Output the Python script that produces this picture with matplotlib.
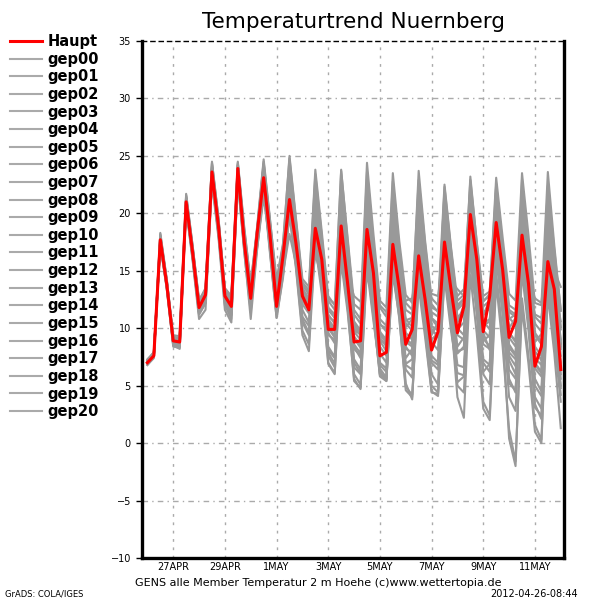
import matplotlib
matplotlib.use("Agg")
import matplotlib.pyplot as plt

# 6-hourly steps from 26APR 00Z (hours)
steps = list(range(0, 385, 6))

date_ticks = [24, 72, 120, 168, 216, 264, 312, 360]
date_labels = ["27APR", "29APR", "1MAY", "3MAY", "5MAY", "7MAY", "9MAY", "11MAY"]
temp_ticks = [-10, -5, 0, 5, 10, 15, 20, 25, 30, 35]

haupt = [7.0, 7.6, 17.7, 13.8, 8.9, 8.8, 21.0, 16.6, 11.8, 12.9, 23.6, 18.9,
         12.8, 11.9, 23.9, 17.5, 12.6, 18.3, 23.1, 18.0, 11.9, 16.3, 21.2, 17.4,
         12.8, 11.6, 18.7, 16.0, 9.9, 9.9, 18.9, 13.9, 8.8, 8.9, 18.6, 14.8,
         7.6, 7.9, 17.3, 13.4, 8.6, 9.9, 16.3, 12.5, 8.1, 9.7, 17.5, 13.4,
         9.6, 11.9, 19.9, 16.0, 9.7, 12.8, 19.2, 15.1, 9.2, 10.6, 18.1, 13.9,
         6.7, 8.4, 15.8, 13.4, 6.4]

gep00 = [7.1, 7.8, 17.9, 14.0, 9.1, 8.9, 21.3, 16.9, 12.0, 13.0, 23.9, 19.1,
         13.0, 12.2, 24.2, 18.0, 13.1, 18.0, 23.8, 18.5, 12.5, 15.8, 22.4, 17.9,
         13.1, 12.4, 20.5, 16.2, 11.0, 10.6, 20.8, 15.2, 9.8, 9.5, 20.2, 15.6,
         9.0, 8.6, 19.5, 14.6, 10.1, 10.8, 18.2, 13.6, 9.4, 10.5, 19.0, 14.2,
         10.5, 12.0, 21.0, 16.2, 11.1, 12.5, 20.4, 15.3, 10.0, 10.9, 19.8, 14.5,
         8.8, 9.5, 18.4, 14.0, 9.0]
gep01 = [6.9, 7.5, 18.3, 14.3, 9.0, 9.2, 21.7, 17.2, 12.3, 13.4, 24.5, 19.6,
         13.4, 12.6, 24.5, 18.8, 13.8, 18.9, 24.7, 19.4, 14.0, 17.2, 25.0, 19.6,
         14.3, 13.6, 23.8, 18.4, 12.8, 12.0, 23.7, 17.9, 12.1, 11.6, 24.4, 18.2,
         12.4, 11.8, 23.5, 17.6, 12.9, 12.2, 22.9, 17.3, 12.1, 11.4, 21.8, 16.6,
         12.0, 12.6, 23.2, 17.4, 12.3, 13.0, 23.1, 17.9, 13.0, 12.4, 23.5, 18.1,
         12.2, 12.0, 23.6, 17.2, 11.5]
gep02 = [7.2, 7.7, 17.4, 13.6, 8.7, 8.6, 20.7, 16.3, 11.5, 12.4, 23.2, 18.5,
         12.5, 11.4, 23.5, 17.2, 12.2, 17.6, 22.6, 17.1, 11.4, 15.0, 20.6, 16.1,
         11.0, 10.2, 17.9, 14.4, 8.1, 7.4, 16.8, 12.2, 6.6, 6.0, 15.9, 11.3,
         5.8, 5.4, 15.2, 10.8, 4.9, 4.2, 14.3, 9.7, 4.5, 4.1, 14.9, 10.4,
         5.3, 5.8, 16.4, 11.6, 6.2, 6.9, 17.0, 12.1, 5.2, 4.6, 15.6, 10.4,
         3.1, 2.4, 14.2, 9.8, 5.0]
gep03 = [7.0, 7.5, 17.6, 13.9, 8.6, 8.4, 20.9, 16.4, 11.4, 12.6, 23.4, 18.6,
         12.3, 11.1, 23.4, 17.0, 11.8, 17.7, 22.9, 17.3, 11.6, 15.1, 21.0, 16.3,
         10.8, 9.6, 19.1, 14.6, 7.9, 6.9, 18.0, 13.1, 7.0, 6.1, 17.4, 12.6,
         6.8, 6.2, 16.6, 12.0, 6.4, 5.7, 16.8, 11.9, 6.0, 5.1, 17.7, 12.4,
         5.0, 4.4, 16.5, 11.2, 3.6, 2.4, 14.8, 9.6, 0.4, -2.0, 12.6, 7.6,
         1.6, 0.3, 13.8, 8.9, 3.6]
gep04 = [6.8, 7.4, 17.2, 13.5, 8.4, 8.3, 20.5, 16.0, 11.2, 12.2, 22.8, 18.2,
         12.6, 12.0, 23.2, 18.3, 13.4, 17.2, 21.8, 17.6, 13.1, 15.4, 19.8, 16.8,
         13.6, 13.2, 17.6, 15.6, 12.6, 12.1, 16.2, 14.6, 12.8, 12.3, 15.9, 14.2,
         12.0, 11.4, 15.1, 13.9, 12.4, 12.6, 15.8, 14.6, 13.0, 12.8, 16.8, 14.9,
         12.8, 13.4, 16.2, 14.6, 12.4, 12.8, 15.4, 13.6, 11.6, 11.2, 16.7, 14.4,
         12.6, 12.2, 17.4, 15.0, 13.6]
gep05 = [7.1, 7.9, 18.1, 14.2, 9.3, 9.1, 21.4, 17.0, 12.2, 13.2, 24.1, 19.4,
         13.2, 12.5, 24.3, 18.4, 13.6, 18.6, 24.3, 19.0, 13.6, 16.4, 23.6, 18.8,
         13.9, 12.9, 22.1, 17.1, 11.6, 10.9, 21.6, 16.0, 10.4, 9.5, 21.0, 15.5,
         9.5, 8.7, 20.4, 14.9, 9.1, 8.6, 19.6, 14.6, 9.9, 9.2, 20.6, 15.7,
         10.6, 11.2, 22.1, 17.0, 11.4, 11.8, 21.9, 16.6, 10.9, 10.3, 22.0, 16.3,
         9.6, 8.8, 21.1, 15.8, 9.9]
gep06 = [6.9, 7.6, 17.5, 13.7, 8.8, 8.7, 20.8, 16.5, 11.9, 12.8, 23.3, 18.7,
         12.9, 12.1, 23.7, 17.8, 12.9, 18.1, 23.4, 17.9, 11.8, 16.0, 21.8, 17.0,
         12.1, 11.3, 18.2, 15.0, 9.4, 9.0, 18.6, 13.4, 8.2, 7.6, 17.9, 13.1,
         7.0, 6.5, 16.5, 12.2, 7.4, 8.2, 14.8, 12.0, 9.0, 9.6, 15.5, 12.8,
         8.4, 9.2, 17.8, 13.1, 7.3, 6.8, 18.3, 13.0, 6.4, 5.6, 17.2, 12.0,
         5.0, 4.1, 16.0, 11.3, 4.8]
gep07 = [7.0, 7.7, 17.8, 14.1, 9.0, 9.0, 21.1, 16.8, 12.1, 13.1, 23.8, 19.0,
         13.1, 12.4, 24.0, 18.2, 13.3, 18.4, 24.1, 18.7, 13.0, 16.8, 24.2, 18.9,
         13.5, 12.6, 22.9, 17.6, 11.8, 11.2, 22.6, 16.8, 11.2, 10.4, 22.4, 16.4,
         10.4, 9.7, 21.5, 15.8, 10.8, 10.1, 21.2, 16.4, 11.4, 11.0, 19.9, 15.8,
         11.6, 12.2, 18.6, 15.3, 11.9, 12.4, 19.4, 14.9, 9.6, 8.9, 20.4, 14.4,
         8.0, 7.2, 19.8, 14.3, 8.2]
gep08 = [7.3, 7.9, 17.3, 13.4, 8.5, 8.2, 20.4, 15.9, 10.8, 11.6, 22.6, 17.9,
         11.6, 10.5, 22.9, 16.7, 10.8, 16.9, 22.0, 16.4, 10.9, 14.4, 19.8, 15.2,
         9.4, 8.0, 17.2, 13.0, 6.9, 6.0, 15.8, 11.4, 5.6, 4.7, 15.2, 10.6,
         6.3, 5.4, 15.8, 11.6, 6.9, 7.3, 15.6, 11.5, 7.0, 6.4, 16.3, 11.6,
         6.8, 6.6, 17.1, 12.0, 6.0, 5.1, 16.2, 11.1, 4.0, 2.8, 14.9, 9.8,
         3.4, 2.1, 15.3, 10.2, 4.2]
gep09 = [7.0, 7.5, 17.6, 13.7, 8.9, 8.7, 21.0, 16.6, 11.7, 12.9, 23.5, 18.8,
         12.7, 11.8, 23.8, 17.6, 12.8, 18.2, 23.6, 18.2, 12.6, 16.4, 22.9, 17.8,
         12.9, 12.1, 21.4, 16.5, 10.6, 9.8, 20.3, 15.1, 9.3, 8.5, 19.1, 14.2,
         8.4, 7.6, 18.5, 13.7, 8.2, 7.9, 18.9, 13.8, 8.8, 8.1, 19.5, 14.6,
         9.9, 10.5, 20.8, 15.4, 9.1, 8.4, 20.9, 14.9, 7.6, 6.7, 18.7, 13.2,
         6.5, 5.8, 17.5, 12.6, 7.0]
gep10 = [6.9, 7.7, 17.7, 13.9, 8.8, 8.9, 20.9, 16.7, 12.0, 13.0, 23.4, 18.8,
         12.9, 12.3, 23.0, 17.9, 13.2, 17.0, 21.4, 17.2, 12.8, 14.8, 18.2, 15.6,
         12.7, 12.3, 16.4, 14.4, 11.6, 11.0, 15.4, 13.1, 10.0, 9.4, 14.6, 12.6,
         10.3, 10.0, 16.2, 13.4, 10.7, 10.9, 17.9, 14.2, 10.2, 9.8, 18.6, 14.1,
         9.4, 9.0, 16.8, 13.4, 10.4, 10.8, 15.3, 13.6, 10.8, 11.2, 14.6, 13.5,
         11.2, 10.9, 15.5, 13.8, 10.6]
gep11 = [7.1, 7.8, 17.9, 14.0, 9.2, 9.1, 21.5, 17.1, 12.4, 13.5, 24.3, 19.5,
         13.3, 12.4, 23.6, 18.1, 13.0, 18.0, 23.9, 18.8, 13.4, 16.9, 23.2, 18.5,
         13.2, 12.0, 20.9, 16.0, 10.2, 9.3, 19.6, 14.6, 8.6, 7.8, 19.6, 14.4,
         8.9, 8.0, 20.6, 15.2, 9.6, 9.0, 21.7, 16.2, 10.8, 10.1, 22.3, 16.9,
         11.8, 12.5, 22.4, 17.0, 10.6, 9.9, 21.4, 15.6, 8.6, 7.7, 19.3, 13.6,
         5.6, 4.5, 18.7, 13.0, 6.0]
gep12 = [7.0, 7.6, 17.5, 13.6, 8.6, 8.5, 20.6, 16.2, 11.3, 12.3, 23.0, 18.3,
         12.2, 11.2, 23.1, 16.9, 11.9, 17.4, 22.4, 16.8, 11.2, 14.9, 20.9, 15.9,
         10.5, 9.4, 18.8, 14.0, 7.6, 6.6, 17.5, 12.6, 6.0, 5.1, 16.8, 11.9,
         6.5, 5.7, 17.6, 12.5, 5.2, 3.8, 15.4, 10.6, 5.0, 4.4, 16.0, 10.9,
         4.0, 2.2, 14.6, 9.5, 3.0, 2.0, 13.9, 8.4, 1.2, -1.6, 11.8, 6.9,
         1.0, 0.0, 12.9, 7.8, 1.3]
gep13 = [7.2, 7.9, 18.2, 14.2, 9.4, 9.3, 21.6, 17.2, 12.5, 13.3, 24.4, 19.6,
         13.5, 12.8, 24.4, 18.6, 13.9, 18.7, 24.5, 19.3, 14.2, 17.4, 24.8, 19.4,
         14.0, 13.3, 23.4, 18.0, 12.4, 11.6, 23.8, 17.6, 11.6, 10.8, 23.6, 17.4,
         11.8, 11.0, 22.8, 17.0, 12.2, 11.6, 23.7, 17.6, 12.6, 12.0, 22.5, 17.1,
         12.4, 12.9, 22.9, 17.5, 12.8, 13.2, 22.4, 17.1, 12.0, 11.6, 21.6, 16.6,
         11.0, 10.4, 22.4, 16.8, 11.6]
gep14 = [6.8, 7.5, 17.4, 13.6, 8.7, 8.6, 20.8, 16.4, 11.6, 12.7, 23.3, 18.6,
         12.6, 11.7, 23.6, 17.4, 12.4, 17.9, 23.3, 17.7, 12.1, 15.6, 21.6, 16.9,
         12.4, 11.6, 19.5, 15.3, 9.6, 8.7, 19.4, 14.0, 8.4, 7.4, 18.9, 13.6,
         7.8, 7.0, 19.2, 13.9, 8.8, 8.4, 20.1, 14.8, 9.6, 10.4, 16.2, 14.1,
         13.4, 12.8, 14.6, 12.2, 9.6, 8.1, 16.6, 12.0, 7.2, 6.0, 17.9, 12.6,
         7.4, 6.8, 18.9, 14.0, 8.6]
gep15 = [7.1, 7.7, 17.8, 13.9, 9.0, 8.8, 21.2, 16.7, 11.9, 13.0, 23.7, 19.0,
         13.0, 12.0, 24.1, 17.9, 12.7, 18.3, 23.5, 18.3, 12.3, 16.2, 22.2, 17.5,
         12.6, 11.8, 20.0, 15.7, 10.0, 9.2, 20.1, 14.9, 9.1, 8.3, 20.7, 15.3,
         9.7, 9.0, 21.6, 16.0, 10.4, 9.8, 22.4, 16.6, 10.9, 10.4, 21.2, 16.1,
         10.0, 9.4, 21.7, 16.0, 9.8, 9.2, 22.6, 16.3, 9.2, 8.4, 22.9, 16.2,
         9.4, 8.6, 20.6, 15.2, 8.7]
gep16 = [7.0, 7.6, 17.7, 13.8, 8.8, 8.6, 20.6, 16.3, 11.5, 12.5, 23.0, 18.4,
         12.4, 11.3, 23.3, 17.2, 12.1, 17.8, 23.0, 17.4, 11.7, 15.4, 21.4, 16.6,
         11.6, 10.5, 19.6, 14.8, 8.4, 7.5, 18.6, 13.2, 7.3, 6.4, 16.4, 12.3,
         6.0, 5.6, 14.7, 11.0, 4.6, 4.0, 13.6, 9.2, 4.4, 4.3, 14.4, 9.8,
         6.1, 5.9, 16.0, 11.5, 7.0, 6.2, 17.7, 12.6, 5.6, 4.4, 16.4, 11.3,
         4.0, 3.0, 17.2, 11.6, 5.6]
gep17 = [6.9, 7.7, 18.0, 14.1, 9.1, 9.0, 21.3, 16.9, 12.2, 13.1, 24.0, 19.2,
         13.1, 12.3, 24.2, 18.3, 13.5, 18.5, 24.2, 18.9, 13.2, 16.6, 23.9, 18.6,
         13.4, 12.4, 22.6, 17.2, 11.2, 10.4, 22.3, 16.4, 10.6, 9.8, 21.7, 16.0,
         10.8, 10.2, 19.4, 15.6, 11.6, 11.2, 18.4, 15.4, 11.8, 11.5, 20.8, 15.9,
         11.0, 11.4, 21.4, 16.4, 11.2, 11.7, 20.1, 15.8, 11.4, 11.0, 21.1, 15.9,
         10.4, 9.7, 20.1, 15.4, 10.1]
gep18 = [7.2, 7.8, 17.6, 13.8, 8.9, 8.8, 20.9, 16.5, 11.8, 12.8, 23.5, 18.8,
         12.8, 11.9, 23.9, 17.6, 12.6, 18.2, 23.4, 18.0, 12.2, 16.1, 22.6, 17.6,
         12.6, 11.7, 21.0, 16.0, 10.4, 9.7, 21.3, 15.4, 9.7, 9.0, 18.8, 14.8,
         9.4, 8.9, 17.2, 13.8, 8.4, 7.6, 17.4, 12.9, 7.2, 6.8, 18.4, 13.2,
         7.8, 8.4, 19.0, 13.8, 8.6, 8.2, 19.7, 14.0, 7.9, 7.3, 20.6, 14.6,
         6.8, 6.1, 21.8, 15.2, 7.6]
gep19 = [7.0, 7.6, 17.6, 13.8, 8.7, 8.5, 20.7, 16.2, 11.2, 12.2, 23.1, 18.2,
         12.0, 10.8, 22.8, 16.6, 11.4, 17.2, 22.2, 16.6, 10.9, 14.6, 20.2, 15.4,
         9.8, 8.6, 17.8, 13.4, 7.0, 6.1, 16.4, 11.8, 5.4, 4.8, 15.6, 11.0,
         5.9, 5.5, 16.7, 11.8, 6.8, 6.4, 17.6, 12.6, 7.6, 7.0, 19.1, 13.5,
         8.0, 8.2, 20.1, 14.6, 8.9, 9.4, 18.6, 13.9, 8.3, 7.6, 18.0, 13.0,
         7.0, 6.2, 16.8, 12.2, 6.6]
gep20 = [7.1, 7.7, 17.7, 13.9, 9.0, 8.9, 21.1, 16.8, 12.0, 13.0, 23.7, 19.0,
         13.0, 12.1, 24.0, 17.9, 12.9, 18.3, 23.7, 18.4, 12.7, 16.5, 23.0, 18.0,
         13.0, 12.2, 21.6, 16.6, 10.8, 10.0, 21.0, 15.7, 10.2, 9.6, 20.4, 15.0,
         9.2, 8.4, 18.9, 14.2, 9.0, 8.6, 19.6, 14.6, 9.8, 9.4, 20.8, 15.2,
         10.8, 11.6, 21.8, 16.2, 10.2, 10.6, 21.0, 15.4, 9.6, 8.8, 19.1, 14.0,
         8.4, 7.6, 19.4, 14.3, 8.4]

members = [gep00, gep01, gep02, gep03, gep04, gep05, gep06, gep07, gep08, gep09,
           gep10, gep11, gep12, gep13, gep14, gep15, gep16, gep17, gep18, gep19,
           gep20]
member_names = ["gep%02d" % i for i in range(len(members))]

GREY = "#999999"
GRID = "#aaaaaa"

fig = plt.figure(figsize=(6, 6), dpi=100)
ax = fig.add_axes([142 / 600, 42 / 600, 422 / 600, 517 / 600])

member_lines = []
for name, vals in zip(member_names, members):
    line, = ax.plot(steps, vals, color=GREY, linewidth=1.5, label=name)
    member_lines.append(line)

haupt_line, = ax.plot(steps, haupt, color="#ff0000", linewidth=2.2,
                      label="Haupt", zorder=5)

ax.set_xlim(-5, 387)
ax.set_ylim(-10, 35)

ax.set_xticks(date_ticks)
ax.set_xticklabels(date_labels)
ax.set_yticks(temp_ticks)
ax.set_yticklabels([str(t).replace("-", "\u2212") for t in temp_ticks])

ax.tick_params(axis="x", length=0, pad=3, labelsize=7)
ax.tick_params(axis="y", direction="out", length=4, width=1, pad=4,
               labelsize=7)

# grid like GrADS
for t in temp_ticks[1:-1]:
    ax.axhline(t, color=GRID, linewidth=1, linestyle=(0, (4, 3, 1, 3)),
               zorder=0)
for t in date_ticks:
    ax.axvline(t, color=GRID, linewidth=1, linestyle=(0, (2, 4)), zorder=0)

for side in ["left", "bottom", "right"]:
    ax.spines[side].set_linewidth(2.4)
ax.spines["top"].set_linewidth(1)
ax.spines["top"].set_linestyle((0, (3, 3)))

handles = [haupt_line] + member_lines
leg = ax.legend(handles=handles, labels=[h.get_label() for h in handles],
                loc="upper left", bbox_to_anchor=(10 / 600, 1 - 34 / 600),
                bbox_transform=fig.transFigure, frameon=False,
                borderpad=0, borderaxespad=0, handlelength=2.2,
                handletextpad=0.35, labelspacing=0.18,
                prop={"size": 10.5, "weight": "bold"})
for h in leg.legend_handles[1:]:
    h.set_color("#aaaaaa")

fig.text(353 / 600, 1 - 22 / 600, "Temperaturtrend Nuernberg",
         ha="center", va="center", fontsize=15.5)
fig.text(135 / 600, 1 - 583 / 600,
         "GENS alle Member Temperatur 2 m Hoehe (c)www.wettertopia.de",
         ha="left", va="center", fontsize=8)
fig.text(5 / 600, 1 - 594 / 600, "GrADS: COLA/IGES",
         ha="left", va="center", fontsize=6)
fig.text(578 / 600, 1 - 594 / 600, "2012-04-26-08:44",
         ha="right", va="center", fontsize=7)

fig.savefig("out.png", dpi=100)
